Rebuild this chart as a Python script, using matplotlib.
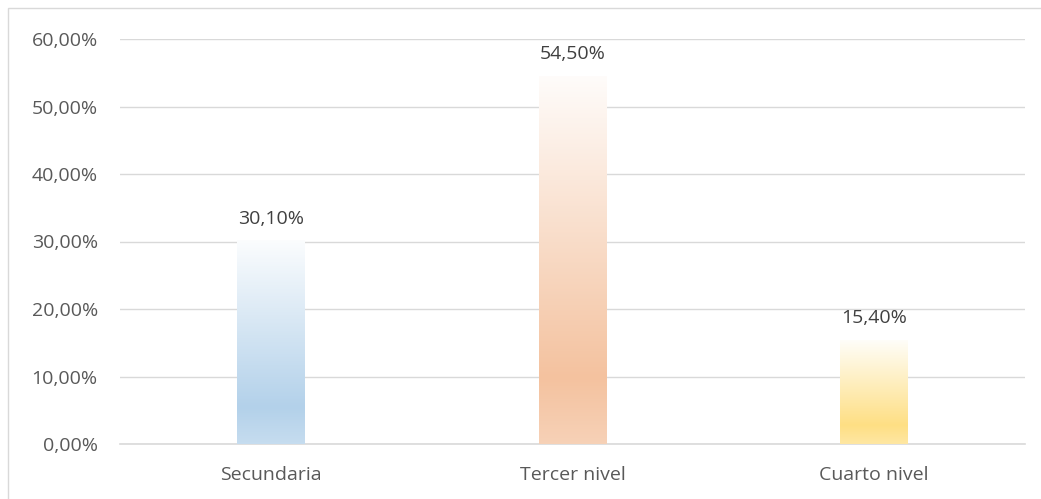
import numpy as np
import matplotlib.pyplot as plt
from matplotlib.colors import to_rgb
from matplotlib.patches import Rectangle

categorias = ["Secundaria", "Tercer nivel", "Cuarto nivel"]
valores = [30.10, 54.50, 15.40]
colores = ["#b3d1ea", "#f4c29f", "#fedf84"]
etiquetas_y = ["0,00%", "10,00%", "20,00%", "30,00%", "40,00%", "50,00%", "60,00%"]

plt.rcParams['font.family'] = ['Open Sans', 'DejaVu Sans']
gris = "#595959"

fig = plt.figure(figsize=(10.41, 4.99), dpi=100)
ax = fig.add_axes([120/1041, 1 - 444/499, 905/1041, 405/499])

ancho = 0.225
x = np.arange(len(categorias))


def gradiente(color, n=256):
    c = np.array(to_rgb(color))
    top = np.array([1.0, 1.0, 1.0])
    t = np.linspace(0, 1, n)  # 0 = abajo, 1 = arriba
    filas = []
    for v in t:
        if v < 0.18:
            f = 0.75 + 0.25 * v / 0.18
        else:
            f = 1 - (v - 0.18) / 0.82 * 0.95
        filas.append(c * f + top * (1 - f))
    return np.array(filas)[::-1][:, None, :]


for xi, v, col in zip(x, valores, colores):
    ax.imshow(gradiente(col), extent=[xi - ancho/2, xi + ancho/2, 0, v],
              aspect='auto', zorder=3, interpolation='bilinear')
    ax.text(xi, v + 2.5, f"{v:.2f}%".replace(".", ","), ha='center', va='baseline',
            fontsize=14, color="#404040", zorder=4)

ax.set_xlim(-0.5, len(categorias) - 0.5)
ax.set_ylim(0, 60)
ax.set_yticks(np.arange(0, 61, 10))
ax.set_yticklabels(etiquetas_y)
ax.set_xticks(x)
ax.set_xticklabels(categorias)
ax.tick_params(axis='both', length=0, labelsize=14, labelcolor=gris)
ax.tick_params(axis='y', pad=16)
ax.tick_params(axis='x', pad=16)
ax.grid(axis='y', color='#d9d9d9', lw=1, zorder=0)
ax.set_axisbelow(True)
for lado in ['top', 'right', 'left']:
    ax.spines[lado].set_visible(False)
ax.spines['bottom'].set_color('#d9d9d9')
ax.spines['bottom'].set_linewidth(1.2)

# borde del área del gráfico
fig.patches.append(Rectangle((8/1041, -0.01), 1.1, 1 - 8/499 + 0.01, transform=fig.transFigure,
                             fill=False, edgecolor='#d9d9d9', lw=1))

plt.savefig("out.png", dpi=100)
